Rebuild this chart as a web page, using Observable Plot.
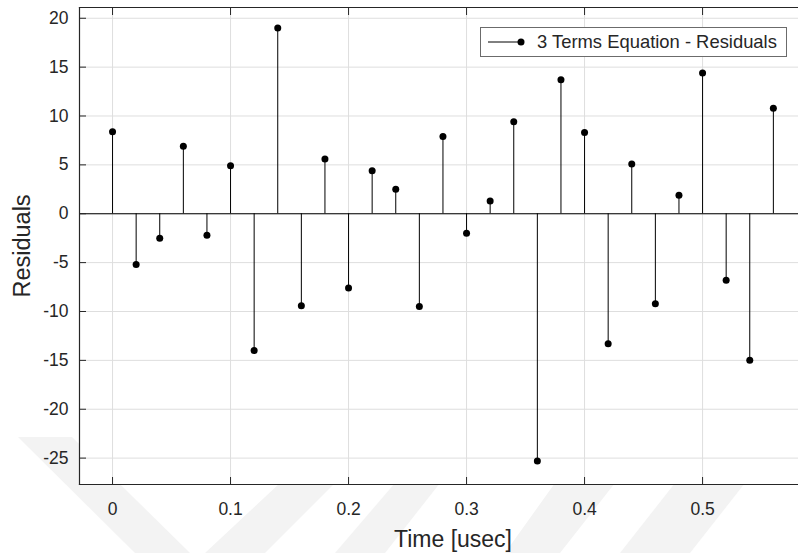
<!DOCTYPE html>
<html>
<head>
<meta charset="utf-8">
<script src="https://cdn.jsdelivr.net/npm/d3@7"></script>
<script src="https://cdn.jsdelivr.net/npm/@observablehq/plot@0.6"></script>
<style>
  html, body { margin: 0; padding: 0; background: #fff; }
  #wrap { position: relative; width: 798px; height: 553px; overflow: hidden; font-family: "Liberation Sans", Arial, sans-serif; }
  #wm { position: absolute; left: 0; top: 0; }
  #chart { position: absolute; left: 0; top: 0; }
  #legend { position: absolute; left: 480px; top: 27px; width: 305px; height: 28px; border: 1px solid #6b6b6b; background: #fff; display: flex; align-items: center; }
  #legend span { font-size: 18.4px; color: #262626; margin-left: 10px; white-space: nowrap; }
</style>
</head>
<body>
<div id="wrap">
  <svg id="wm" width="798" height="553">
    <g fill="#f3f3f3">
      <polygon points="18,437 72,437 190,553 135,553"/>
      <polygon points="280,483 335,483 265,553 205,553"/>
      <polygon points="395,483 440,483 385,553 335,553"/>
      <polygon points="555,483 615,483 560,553 505,553"/>
      <polygon points="675,483 745,483 690,553 620,553"/>
    </g>
  </svg>
  <div id="chart"></div>
  <div id="legend">
    <svg width="40" height="28" style="margin-left:6px"><line x1="1" y1="14" x2="34" y2="14" stroke="#000" stroke-width="1"/><circle cx="34" cy="14" r="3.5" fill="#000"/></svg>
    <span>3 Terms Equation - Residuals</span>
  </div>
</div>
<script>
const times = [0, 0.02, 0.04, 0.06, 0.08, 0.10, 0.12, 0.14, 0.16, 0.18, 0.20, 0.22, 0.24, 0.26, 0.28,
               0.30, 0.32, 0.34, 0.36, 0.38, 0.40, 0.42, 0.44, 0.46, 0.48, 0.50, 0.52, 0.54, 0.56];
const residuals = [8.4, -5.2, -2.5, 6.9, -2.2, 4.9, -14.0, 19.0, -9.4, 5.6, -7.6, 4.4, 2.5, -9.5, 7.9,
                   -2.0, 1.3, 9.4, -25.3, 13.7, 8.3, -13.3, 5.1, -9.2, 1.9, 14.4, -6.8, -15.0, 10.8];
const xTicks = [0, 0.1, 0.2, 0.3, 0.4, 0.5];
const yTicks = [-25, -20, -15, -10, -5, 0, 5, 10, 15, 20];
const xLabel = "Time [usec]";
const yLabel = "Residuals";

const data = times.map((t, i) => ({t, r: residuals[i]}));
const axisColor = "#262626";

const chart = Plot.plot({
  width: 798,
  height: 553,
  marginLeft: 79,
  marginRight: 0,
  marginTop: 7,
  marginBottom: 69,
  style: {fontFamily: "'Liberation Sans', Arial, sans-serif", fontSize: "17.5px", color: axisColor, background: "transparent", overflow: "visible"},
  x: {domain: [-0.028, 0.5813]},
  y: {domain: [-27.7, 21.1]},
  marks: [
    Plot.frame({fill: "#fff", stroke: null}),
    Plot.gridX(xTicks, {stroke: "#dedede", strokeOpacity: 1}),
    Plot.gridY(yTicks, {stroke: "#dedede", strokeOpacity: 1}),
    Plot.ruleY([0], {stroke: "#000", strokeWidth: 1.2}),
    Plot.ruleX(data, {x: "t", y1: 0, y2: "r", stroke: "#000", strokeWidth: 1}),
    Plot.dot(data, {x: "t", y: "r", r: 3.5, fill: "#000", stroke: null}),
    Plot.frame({anchor: "left", stroke: axisColor, strokeWidth: 1.2}),
    Plot.frame({anchor: "bottom", stroke: axisColor, strokeWidth: 1.2}),
    Plot.frame({anchor: "top", stroke: axisColor, strokeWidth: 1.2}),
    Plot.axisY({ticks: yTicks, tickSize: -7, tickPadding: 18, tickFormat: d => String(d), label: null, stroke: axisColor, fill: axisColor, fontSize: 17.5}),
    Plot.axisX({ticks: xTicks, anchor: "bottom", tickSize: -7, tickPadding: 25, tickFormat: d => d === 0 ? "0" : d3.format(".1f")(d), label: null, stroke: axisColor, fill: axisColor, fontSize: 17.5}),
    Plot.axisX({ticks: xTicks, anchor: "top", tickSize: -7, tickFormat: () => "", label: null, stroke: axisColor}),
    Plot.text([yLabel], {frameAnchor: "left", rotate: -90, dx: -57, textAnchor: "middle", lineAnchor: "middle", text: d => d, fontSize: 23.5, fill: axisColor}),
    Plot.text([xLabel], {frameAnchor: "bottom", dx: 14, dy: 62, textAnchor: "middle", lineAnchor: "bottom", text: d => d, fontSize: 23, fill: axisColor})
  ]
});
document.getElementById("chart").appendChild(chart);
</script>
</body>
</html>
